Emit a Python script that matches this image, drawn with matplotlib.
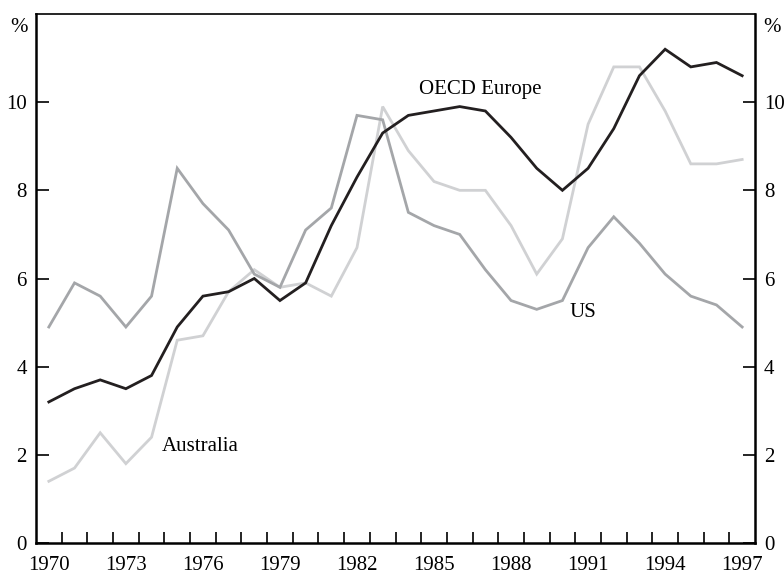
import numpy as np
import matplotlib
matplotlib.use("Agg")
import matplotlib.pyplot as plt

years = np.arange(1970, 1998)
oecd_europe = [3.2, 3.5, 3.7, 3.5, 3.8, 4.9, 5.6, 5.7, 6.0, 5.5,
               5.9, 7.2, 8.3, 9.3, 9.7, 9.8, 9.9, 9.8, 9.2, 8.5,
               8.0, 8.5, 9.4, 10.6, 11.2, 10.8, 10.9, 10.6]
us = [4.9, 5.9, 5.6, 4.9, 5.6, 8.5, 7.7, 7.1, 6.1, 5.8,
      7.1, 7.6, 9.7, 9.6, 7.5, 7.2, 7.0, 6.2, 5.5, 5.3,
      5.5, 6.7, 7.4, 6.8, 6.1, 5.6, 5.4, 4.9]
australia = [1.4, 1.7, 2.5, 1.8, 2.4, 4.6, 4.7, 5.7, 6.2, 5.8,
             5.9, 5.6, 6.7, 9.9, 8.9, 8.2, 8.0, 8.0, 7.2, 6.1,
             6.9, 9.5, 10.8, 10.8, 9.8, 8.6, 8.6, 8.7]
label_years = list(range(1970, 1998, 3))
y_ticks = [0, 2, 4, 6, 8, 10]

plt.rcParams['font.family'] = ['Liberation Serif', 'DejaVu Serif']

fig = plt.figure(figsize=(7.84, 5.76), dpi=100)
ax = fig.add_axes([36/784, 33/576, 719/784, 529/576])

xc = years + 0.5
ax.plot(xc, australia, color='#d0d1d3', lw=2.0, solid_joinstyle='miter')
ax.plot(xc, us, color='#a4a6a9', lw=2.0, solid_joinstyle='miter')
ax.plot(xc, oecd_europe, color='#231f20', lw=2.0, solid_joinstyle='miter')

ax.set_xlim(1970, 1998)
ax.set_ylim(0, 12)

# labels centred on years, ticks at year boundaries
ax.set_xticks([y + 0.5 for y in label_years])
ax.set_xticklabels([str(y) for y in label_years], fontsize=15)
ax.set_xticks(np.arange(1971, 1998), minor=True)
ax.tick_params(axis='x', which='major', length=0, pad=9.5)
ax.tick_params(axis='x', which='minor', direction='in', length=8, width=1.2)

ax.set_yticks(y_ticks)
ax.set_yticklabels([str(v) for v in y_ticks], fontsize=15)
ax.tick_params(axis='y', which='major', direction='in', length=9, width=1.2,
               left=True, right=True, labelleft=True, labelright=True, pad=6.5)

for s in ['left', 'right', 'bottom']:
    ax.spines[s].set_linewidth(1.8)
ax.spines['top'].set_linewidth(1.2)

ax.text(-0.012, 0.975, '%', transform=ax.transAxes, ha='right', va='center', fontsize=15)
ax.text(1.012, 0.975, '%', transform=ax.transAxes, ha='left', va='center', fontsize=15)

ax.text(1987.3, 10.28, 'OECD Europe', ha='center', va='center', fontsize=15)
ax.text(1991.3, 5.22, 'US', ha='center', va='center', fontsize=15)
ax.text(1976.4, 2.18, 'Australia', ha='center', va='center', fontsize=15)

fig.savefig('out.png', dpi=100)
